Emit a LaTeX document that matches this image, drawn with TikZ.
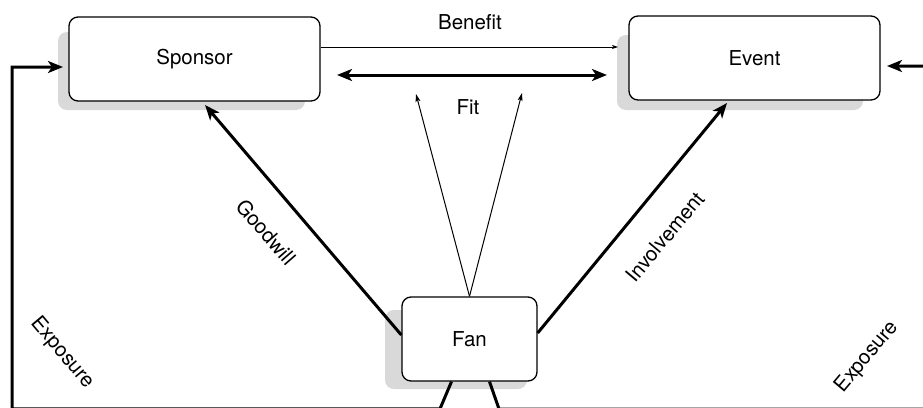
\documentclass[tikz,border=0pt]{standalone}
\usepackage{fontspec}
\setmainfont{TeX Gyre Heros}
\usetikzlibrary{arrows.meta}
\definecolor{shadowgray}{HTML}{D9D9D9}
\begin{document}
\begin{tikzpicture}[x=1pt,y=-1pt,
  box/.style={draw=black, line width=1.3pt, rounded corners=9pt, fill=white, minimum height=84pt, inner sep=0pt, font=\fontsize{20.5}{24}\selectfont},
  thickarrow/.style={line width=3pt, -{Stealth[length=15pt,width=12pt,inset=4pt]}},
  thinarrow/.style={line width=1pt, -{Stealth[length=8pt,width=5pt,inset=2pt]}},
  tinyarrow/.style={line width=0.9pt, -{Stealth[length=6pt,width=4pt,inset=1.5pt]}},
  lbl/.style={font=\fontsize{20.5}{24}\selectfont, inner sep=0pt}]
\useasboundingbox (0,0) rectangle (923,407);
\clip (0,0) rectangle (923,407);
\fill[white] (0,0) rectangle (923,407);
% shadows
\fill[shadowgray, rounded corners=9pt] (58,32) rectangle (305,110);
\fill[shadowgray, rounded corners=9pt] (617,35) rectangle (863,110);
\fill[shadowgray, rounded corners=9pt] (385,310) rectangle (527,389);
% nodes
\node[box, minimum width=251pt] (sponsor) at (194.5,59) {Sponsor};
\node[box, minimum width=251pt] (event) at (754.5,58) {Event};
\node[box, minimum width=135pt] (fan) at (469.5,339) {Fan};
% coordinates
\coordinate (benefitend) at (618,47);
\coordinate (fitL) at (337,75);
\coordinate (fitR) at (607,75);
\coordinate (fitA) at (416,94);
\coordinate (fitB) at (522,93);
\coordinate (gwend) at (205,105);
\coordinate (invend) at (727,103);
\coordinate (expL) at (63,67);
\coordinate (expR) at (887,66);
% connectors
\draw[tinyarrow] (sponsor.east |- benefitend) -- (benefitend);
\draw[line width=3pt, {Stealth[length=15pt,width=12pt,inset=4pt]}-{Stealth[length=15pt,width=12pt,inset=4pt]}] (fitL) -- (fitR);
\draw[thinarrow] (fan.north) -- (fitA);
\draw[thinarrow] (fan.north) -- (fitB);
\draw[thickarrow] ([yshift=4pt]fan.west) -- (gwend);
\draw[thickarrow] ([yshift=6pt]fan.east) -- (invend);
\draw[thickarrow] ([xshift=-18pt]fan.south) -- (440,408.8) -- (12,408.8) -- (12,67) -- (expL);
\draw[thickarrow] ([xshift=20pt]fan.south) -- (499,409) -- (940,409) -- (940,66) -- (expR);
% labels
\node[lbl] (benefit) at (470,22) {Benefit};
\node[lbl] (fit) at (468,107) {Fit};
\node[lbl, rotate=-49] (goodwill) at (266,232) {Goodwill};
\node[lbl, rotate=50] (involvement) at (665,237) {Involvement};
\node[lbl, rotate=-50] (exposureL) at (62,353) {Exposure};
\node[lbl, rotate=50] (exposureR) at (867,357) {Exposure};
\end{tikzpicture}
\end{document}
